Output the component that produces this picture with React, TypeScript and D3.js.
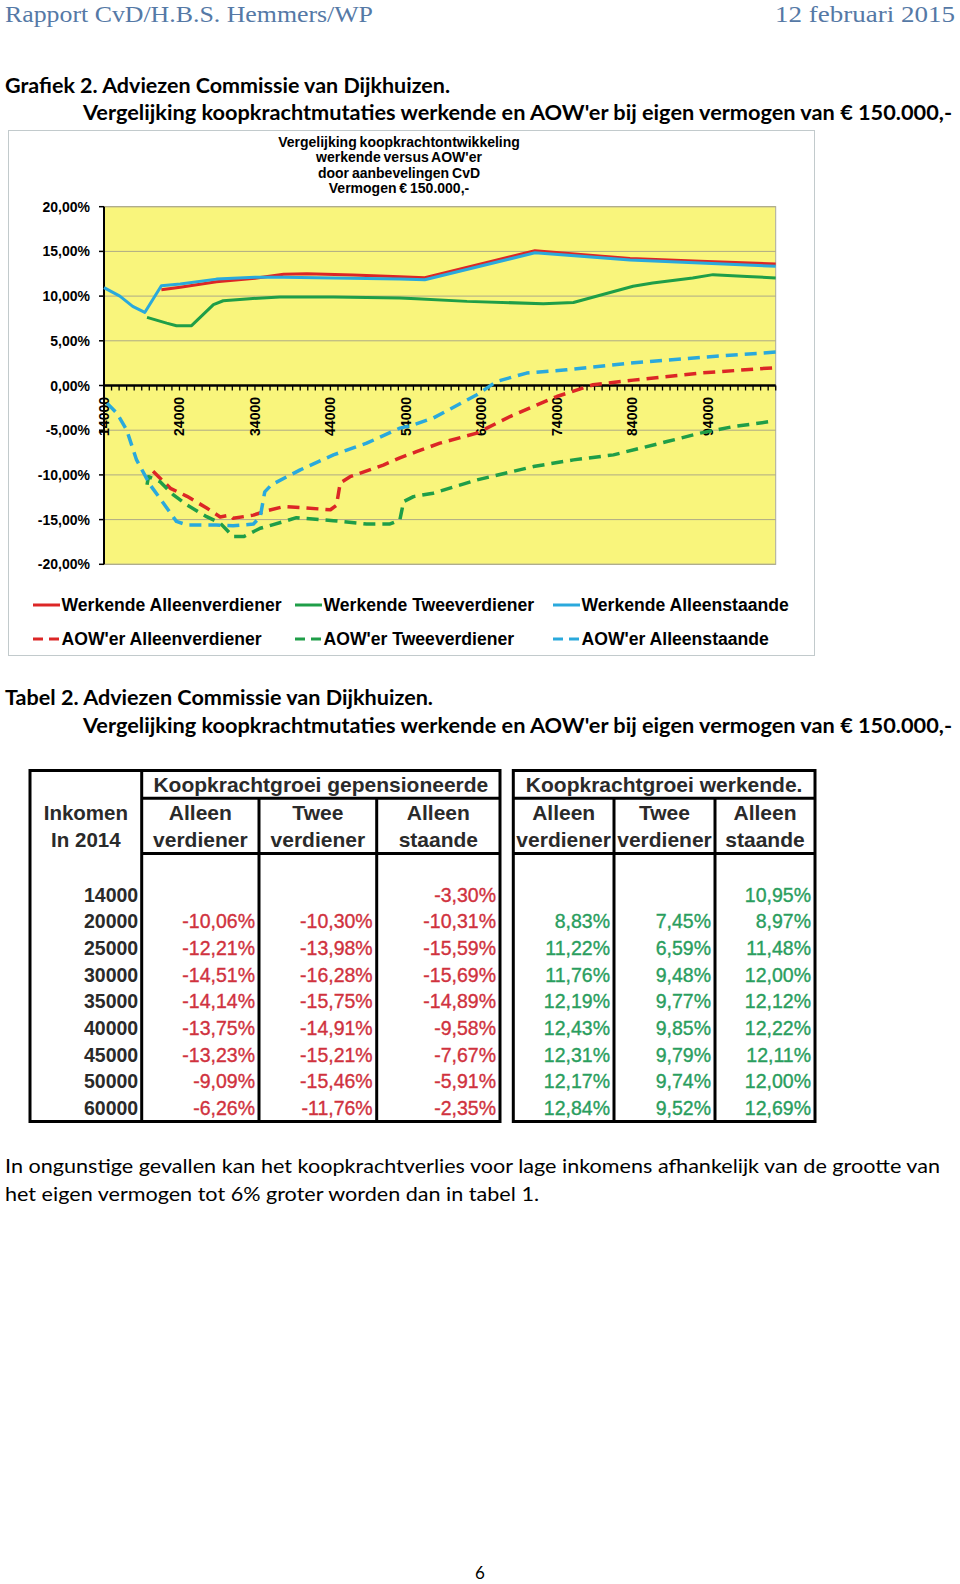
import React from 'react';
import * as d3 from 'd3';

// ---------- DATA ----------
const incomeDomain: [number, number] = [14000, 103000];
const yTickValues = [20, 15, 10, 5, 0, -5, -10, -15, -20];
const xLabelValues = [14000, 24000, 34000, 44000, 54000, 64000, 74000, 84000, 94000];

const werkAlleenverdiener: [number, number][] = [
  [21600, 10.7], [24100, 11.0], [28900, 11.6], [34000, 12.0], [37800, 12.45], [40900, 12.5],
  [47000, 12.35], [53200, 12.17], [56500, 12.06], [71100, 15.08], [83700, 14.2], [93000, 13.9], [103000, 13.6],
];
const werkTweeverdiener: [number, number][] = [
  [19700, 7.62], [22300, 6.98], [23600, 6.69], [25600, 6.69], [28500, 9.04], [29800, 9.48], [33300, 9.71],
  [37300, 9.9], [44400, 9.9], [53200, 9.79], [55400, 9.71], [62100, 9.41], [72200, 9.15], [76200, 9.29],
  [84100, 11.1], [86700, 11.47], [92000, 12.03], [94700, 12.4], [99200, 12.2], [103000, 12.03],
];
const werkAlleenstaande: [number, number][] = [
  [14000, 10.95], [16100, 10.0], [17800, 8.85], [19400, 8.17], [21600, 11.16], [24100, 11.35], [28900, 11.9],
  [34000, 12.1], [37800, 12.12], [44400, 12.02], [53200, 11.9], [56500, 11.82], [71100, 14.85], [83700, 14.05],
  [93000, 13.7], [103000, 13.33],
];
const aowAlleenverdiener: [number, number][] = [
  [20500, -9.6], [22800, -11.5], [25000, -12.4], [27600, -13.7], [29400, -14.7], [30700, -14.5], [31100, -14.85],
  [33800, -14.5], [35600, -14.0], [37800, -13.55], [40000, -13.65], [44000, -13.9], [44800, -13.4], [45300, -10.9],
  [46600, -10.2], [51000, -8.9], [53200, -8.1], [55400, -7.4], [58500, -6.45], [63400, -5.33], [67800, -3.47],
  [74000, -1.23], [78800, 0.08], [84100, 0.6], [93000, 1.39], [103000, 2.0],
];
const aowTweeverdiener: [number, number][] = [
  [19700, -11.1], [19900, -10.2], [21400, -10.75], [23200, -12.24], [25000, -13.36], [27600, -14.67], [29400, -15.4],
  [31100, -16.9], [32500, -16.9], [34700, -15.97], [37800, -15.23], [39500, -14.78], [44400, -15.12], [48800, -15.49],
  [51900, -15.49], [53200, -15.04], [53700, -12.99], [55000, -12.43], [57600, -12.05], [63400, -10.56], [70900, -9.07],
  [76200, -8.32], [81500, -7.76], [88600, -6.27], [93000, -5.33], [97400, -4.59], [102300, -4.03],
];
const aowAlleenstaande: [number, number][] = [
  [14400, -1.97], [15700, -3.1], [17000, -4.96], [18300, -8.3], [20100, -11.1], [21900, -13.2], [23600, -15.2],
  [25000, -15.6], [28900, -15.6], [31100, -15.7], [33800, -15.5], [34700, -14.7], [35300, -11.9], [36200, -11.1],
  [40000, -9.44], [44400, -7.76], [48800, -6.45], [53200, -4.77], [55000, -4.4], [57600, -3.65], [63400, -1.04],
  [66000, 0.45], [70000, 1.39], [75300, 1.76], [83700, 2.5], [93000, 3.14], [103000, 3.74],
];

const chartTitle = ['Vergelijking koopkrachtontwikkeling', "werkende versus AOW'er", 'door aanbevelingen CvD', 'Vermogen € 150.000,-'];

// table data
const tableIncomes = [14000, 20000, 25000, 30000, 35000, 40000, 45000, 50000, 60000];
const pensAlleenverdiener = [null, -10.06, -12.21, -14.51, -14.14, -13.75, -13.23, -9.09, -6.26];
const pensTweeverdiener = [null, -10.30, -13.98, -16.28, -15.75, -14.91, -15.21, -15.46, -11.76];
const pensAlleenstaande = [-3.30, -10.31, -15.59, -15.69, -14.89, -9.58, -7.67, -5.91, -2.35];
const werkTabAlleenverdiener = [null, 8.83, 11.22, 11.76, 12.19, 12.43, 12.31, 12.17, 12.84];
const werkTabTweeverdiener = [null, 7.45, 6.59, 9.48, 9.77, 9.85, 9.79, 9.74, 9.52];
const werkTabAlleenstaande = [10.95, 8.97, 11.48, 12.00, 12.12, 12.22, 12.11, 12.00, 12.69];
const subHeaders = [['Alleen', 'verdiener'], ['Twee', 'verdiener'], ['Alleen', 'staande']];

// ---------- STYLE ----------
const RED = '#dc2626';
const GREEN = '#1f9e48';
const BLUE = '#2aa9dc';
const ARIAL = "'Liberation Sans', Arial, sans-serif";
const CAL = "Lato, 'Open Sans', sans-serif";
const SERIF = "'Liberation Serif', 'DejaVu Serif', serif";

const locale = d3.formatLocale({ decimal: ',', thousands: '.', grouping: [3], currency: ['€', ''], minus: '-' });
const f2 = locale.format('.2f');
const pct = (v: number) => f2(v) + '%';

const series = [
  { name: 'Werkende Alleenverdiener', data: werkAlleenverdiener, color: RED, dashed: false },
  { name: 'Werkende Tweeverdiener', data: werkTweeverdiener, color: GREEN, dashed: false },
  { name: 'Werkende Alleenstaande', data: werkAlleenstaande, color: BLUE, dashed: false },
  { name: "AOW'er Alleenverdiener", data: aowAlleenverdiener, color: RED, dashed: true },
  { name: "AOW'er Tweeverdiener", data: aowTweeverdiener, color: GREEN, dashed: true },
  { name: "AOW'er Alleenstaande", data: aowAlleenstaande, color: BLUE, dashed: true },
];

function Table({ x0, x1, edges, header, cols, incomes, color }: any) {
  const top = 770.5, bottom = 1121.5;
  const rowY = d3.scaleLinear().domain([0, 8]).range([901.7, 1115]);
  const headerLeft = edges[0];
  const inner = edges.slice(incomes ? 0 : 1, edges.length - 1);
  return (
    <g fontFamily={ARIAL}>
      <rect x={x0} y={top} width={x1 - x0} height={bottom - top} fill="#fff" stroke="#000" strokeWidth={3} />
      {inner.map((v: number, i: number) => (
        <line key={i} x1={v} x2={v} y1={incomes && i === 0 ? top : 798.3} y2={bottom} stroke="#000" strokeWidth={3} />
      ))}
      <line x1={headerLeft} x2={x1} y1={798.3} y2={798.3} stroke="#000" strokeWidth={3} />
      <line x1={headerLeft} x2={x1} y1={853.5} y2={853.5} stroke="#000" strokeWidth={3} />
      <text x={(headerLeft + x1) / 2} y={791.5} textAnchor="middle" fontSize={21} fontWeight="bold" fill="#2a2a2a">{header}</text>
      {incomes && (
        <g fontSize={20.5} fontWeight="bold" fill="#2a2a2a" textAnchor="middle">
          <text x={(x0 + headerLeft) / 2} y={820}>Inkomen</text>
          <text x={(x0 + headerLeft) / 2} y={847.3}>In 2014</text>
        </g>
      )}
      {subHeaders.map((sh, i) => {
        const cx = (edges[i] + edges[i + 1]) / 2;
        return (
          <g key={i} fontSize={21} fontWeight="bold" fill="#2a2a2a" textAnchor="middle">
            <text x={cx} y={820}>{sh[0]}</text>
            <text x={cx} y={847.3}>{sh[1]}</text>
          </g>
        );
      })}
      {incomes && incomes.map((v: number, r: number) => (
        <text key={r} x={headerLeft - 3.5} y={rowY(r)} textAnchor="end" fontSize={19.5} fontWeight="bold" fill="#2a2a2a">{v}</text>
      ))}
      {cols.map((col: (number | null)[], c: number) => col.map((v, r) => v === null ? null : (
        <text key={c + '-' + r} x={edges[c + 1] - 4} y={rowY(r)} textAnchor="end" fontSize={19.5}
          fill={color} stroke={color} strokeWidth={0.35}>{pct(v)}</text>
      )))}
    </g>
  );
}

export default function App() {
  const x = d3.scaleLinear().domain(incomeDomain).range([104, 775.7]);
  const y = d3.scaleLinear().domain([-20, 20]).range([564.3, 206.7]);
  const line = d3.line<[number, number]>().x(d => x(d[0])).y(d => y(d[1]));
  const minorTicks = d3.range(incomeDomain[0], incomeDomain[1] + 1, 1000);
  const [px0, px1] = x.range();
  const [py1, py0] = y.range();

  const legendCols = [33, 295, 553];
  const legendRows = [605, 639];

  return (
    <svg width={960} height={1584} style={{ position: 'absolute', left: 0, top: 0, background: '#fff' }}>
      {/* page header */}
      <text x={5} y={22} fontFamily={SERIF} fontSize={24} fill="#5579a6" textLength={368} lengthAdjust="spacingAndGlyphs">Rapport CvD/H.B.S. Hemmers/WP</text>
      <text x={775} y={22} fontFamily={SERIF} fontSize={24} fill="#5579a6" textLength={180} lengthAdjust="spacingAndGlyphs">12 februari 2015</text>

      <text x={5} y={92.5} fontFamily={CAL} fontWeight="bold" fontSize={20} fill="#000" textLength={445} lengthAdjust="spacingAndGlyphs">Grafiek 2. Adviezen Commissie van Dijkhuizen.</text>
      <text x={83} y={120} fontFamily={CAL} fontWeight="bold" fontSize={20} fill="#000" textLength={869} lengthAdjust="spacingAndGlyphs">Vergelijking koopkrachtmutaties werkende en AOW'er bij eigen vermogen van  € 150.000,-</text>

      {/* chart frame */}
      <rect x={8.5} y={130.5} width={806} height={525} fill="#fff" stroke="#c2cacc" strokeWidth={1} />
      <g fontFamily={ARIAL} fontWeight="bold" fontSize={14} textAnchor="middle" fill="#000">
        {chartTitle.map((t, i) => (
          <text key={i} x={399} y={146.5 + i * 15.5} wordSpacing={-1}>{t}</text>
        ))}
      </g>

      {/* plot area */}
      <rect x={px0} y={py0} width={px1 - px0} height={py1 - py0} fill="#f9f57c" stroke="#a9a9a0" strokeWidth={1} />
      {yTickValues.map(v => (
        <line key={v} x1={px0} x2={px1} y1={y(v)} y2={y(v)} stroke="#aeaa86" strokeWidth={1} />
      ))}
      {/* y axis */}
      <line x1={px0} x2={px0} y1={py0} y2={py1} stroke="#000" strokeWidth={2} />
      {yTickValues.map(v => (
        <g key={v}>
          <line x1={px0 - 5} x2={px0} y1={y(v)} y2={y(v)} stroke="#000" strokeWidth={1.5} />
          <text x={90} y={y(v)} textAnchor="end" dominantBaseline="central" fontFamily={ARIAL} fontWeight="bold" fontSize={14} fill="#000">{pct(v)}</text>
        </g>
      ))}
      {/* x axis at 0 */}
      {minorTicks.map(v => (
        <line key={v} x1={x(v)} x2={x(v)} y1={y(0)} y2={y(0) + 5} stroke="#000" strokeWidth={1.3} />
      ))}
      <line x1={px0} x2={px1} y1={y(0)} y2={y(0)} stroke="#000" strokeWidth={2.5} />
      {xLabelValues.map(v => (
        <text key={v} transform={`translate(${x(v)},397) rotate(-90)`} textAnchor="end" dominantBaseline="central"
          fontFamily={ARIAL} fontWeight="bold" fontSize={14} fill="#000">{v}</text>
      ))}

      {/* series */}
      {series.map(s => (
        <path key={s.name} d={line(s.data) || ''} fill="none" stroke={s.color}
          strokeWidth={s.dashed ? 3.5 : 3} strokeDasharray={s.dashed ? '12,7' : undefined}
          strokeLinejoin="round" />
      ))}

      {/* legend */}
      {series.map((s, i) => {
        const lx = legendCols[i % 3];
        const ly = legendRows[Math.floor(i / 3)];
        return (
          <g key={s.name}>
            <line x1={lx} x2={lx + 27} y1={ly} y2={ly} stroke={s.color} strokeWidth={3}
              strokeDasharray={s.dashed ? '10,6' : undefined} />
            <text x={lx + 28.5} y={ly + 6} fontFamily={ARIAL} fontWeight="bold" fontSize={17.6} fill="#000">{s.name}</text>
          </g>
        );
      })}

      {/* table section */}
      <text x={5} y={704.5} fontFamily={CAL} fontWeight="bold" fontSize={20} fill="#000" textLength={428} lengthAdjust="spacingAndGlyphs">Tabel 2. Adviezen Commissie van Dijkhuizen.</text>
      <text x={83} y={733} fontFamily={CAL} fontWeight="bold" fontSize={20} fill="#000" textLength={869} lengthAdjust="spacingAndGlyphs">Vergelijking koopkrachtmutaties werkende en AOW'er bij eigen vermogen van  € 150.000,-</text>

      <Table x0={30} x1={500} edges={[141.7, 259, 376.7, 500]}
        header="Koopkrachtgroei gepensioneerde" incomes={tableIncomes}
        cols={[pensAlleenverdiener, pensTweeverdiener, pensAlleenstaande]} color="#d0323e" />
      <Table x0={513.3} x1={815} edges={[513.3, 614, 715, 815]}
        header="Koopkrachtgroei werkende." incomes={null}
        cols={[werkTabAlleenverdiener, werkTabTweeverdiener, werkTabAlleenstaande]} color="#2a9e5e" />

      {/* body text */}
      <text x={5} y={1172.5} fontFamily={CAL} fontSize={20} fill="#000" textLength={935} lengthAdjust="spacingAndGlyphs">In ongunstige gevallen kan het koopkrachtverlies voor lage inkomens afhankelijk van de grootte van</text>
      <text x={5} y={1200.5} fontFamily={CAL} fontSize={20} fill="#000" textLength={534} lengthAdjust="spacingAndGlyphs">het eigen vermogen tot 6% groter worden dan in tabel 1.</text>

      <text x={480} y={1579} textAnchor="middle" fontFamily={CAL} fontSize={17} fill="#000">6</text>
    </svg>
  );
}
